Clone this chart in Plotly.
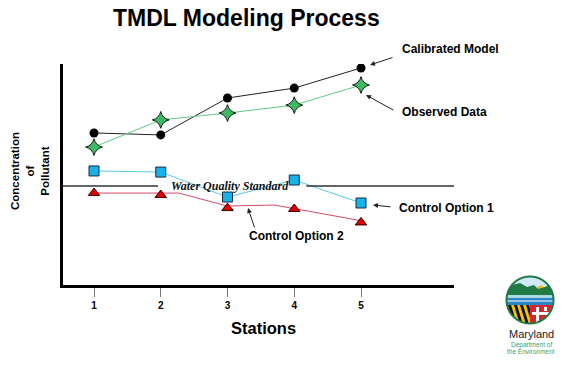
import plotly.graph_objects as go
import math

# ---------------- data ----------------
stations = [1, 2, 3, 4, 5]
station_labels = ["1", "2", "3", "4", "5"]
calibrated_model = [6.88, 6.79, 8.46, 8.91, 9.82]
observed_data = [6.24, 7.47, 7.78, 8.14, 9.05]
control_option_1 = [5.16, 5.11, 3.98, 4.75, 3.71]
control_option_2 = [4.16, 4.07, 3.48, 3.44, 2.83]
# drawn path of the Control Option 2 line
option2_line_x = [1, 2.27, 3, 3.7, 5]
option2_line_y = [4.16, 4.16, 3.57, 3.62, 2.91]
water_quality_standard = 4.48

W, H = 569, 365
FONT = "Liberation Sans"


def px(x):
    return x / W


def py(y):
    return 1 - y / H


fig = go.Figure()

fig.add_trace(go.Scatter(x=stations, y=calibrated_model, mode="lines+markers",
                         line=dict(color="#222222", width=1),
                         marker=dict(symbol="circle", size=9, color="#000000"),
                         name="Calibrated Model"))
fig.add_trace(go.Scatter(x=stations, y=observed_data, mode="lines+markers",
                         line=dict(color="#62c985", width=1),
                         marker=dict(symbol="star-diamond", size=12, color="#3dbb63",
                                     line=dict(color="#1a1a1a", width=1)),
                         name="Observed Data"))
fig.add_trace(go.Scatter(x=stations, y=control_option_1, mode="lines+markers",
                         line=dict(color="#5cc8e6", width=1),
                         marker=dict(symbol="square", size=10, color="#17b3e8",
                                     line=dict(color="#1a2a44", width=1)),
                         name="Control Option 1"))
fig.add_trace(go.Scatter(x=option2_line_x, y=option2_line_y, mode="lines",
                         line=dict(color="#d64a68", width=1), name="Control Option 2 line"))
fig.add_trace(go.Scatter(x=stations, y=control_option_2, mode="markers",
                         marker=dict(symbol="triangle-up", size=10, color="#e00000",
                                     line=dict(color="#330000", width=1)),
                         name="Control Option 2"))

x0_px, x1_px = 62.8, 454.0
y_top_px, y_bot_px = 64.0, 285.0
st_px = [94.0, 160.75]  # station 1 and 2 pixel positions
step = st_px[1] - st_px[0]
xr = [1 - (st_px[0] - x0_px) / step, 1 + (x1_px - st_px[0]) / step]

fig.update_layout(
    width=W, height=H, autosize=False,
    margin=dict(l=0, r=0, t=0, b=0, pad=0),
    paper_bgcolor="white", plot_bgcolor="white",
    showlegend=False, hovermode=False,
    xaxis=dict(domain=[px(x0_px), px(x1_px)], range=xr,
               tickvals=stations, ticktext=[f"<b>{s}</b>" for s in station_labels],
               ticks="outside", ticklen=9, tickwidth=1, tickcolor="#777777",
               showline=True, linecolor="black", linewidth=2.5,
               showgrid=False, zeroline=False,
               tickfont=dict(family=FONT, size=10, color="black")),
    yaxis=dict(domain=[py(y_bot_px), py(y_top_px)], range=[0, 10],
               showline=True, linecolor="black", linewidth=2.5,
               showticklabels=False, ticks="", showgrid=False, zeroline=False),
)

# water quality standard line (with gap for label)
wq_gap = [1.96, 4.18]
for xa, xb in [(xr[0], wq_gap[0]), (wq_gap[1], xr[1])]:
    fig.add_shape(type="line", xref="x", yref="y", x0=xa, x1=xb,
                  y0=water_quality_standard, y1=water_quality_standard,
                  line=dict(color="#333333", width=1.5))

ann = []


def text(x, y, t, size, color="black", family=FONT, xanchor="center", **kw):
    ann.append(dict(x=px(x), y=py(y), xref="paper", yref="paper", text=t,
                    showarrow=False, xanchor=xanchor, yanchor="middle",
                    font=dict(family=family, size=size, color=color), **kw))


ann.append(dict(x=3.03, y=water_quality_standard + 0.02, xref="x", yref="y",
                xanchor="center", yanchor="middle",
                text="<b><i>Water Quality Standard</i></b>", showarrow=False,
                font=dict(family="Liberation Serif", size=12, color="#111111")))
text(246, 18, "<b>TMDL Modeling Process</b>", 23)
text(263, 328, "<b>Stations</b>", 16.5)
text(29.5, 171.5, "<b>Concentration<br>of<br>Pollutant</b>", 11.5, textangle=-90)

labels = [("Calibrated Model", 400, 49), ("Observed Data", 400, 112),
          ("Control Option 1", 397, 208), ("Control Option 2", 247, 236)]
for t, lx, ly in labels:
    text(lx, ly, f"<b>{t}</b>", 12, xanchor="left")

arrows = [((394, 57), (370, 65)), ((395, 111), (366, 95)),
          ((392, 207), (373, 205)), ((255, 229), (248, 208))]
for (tx, ty), (hx, hy) in arrows:
    ann.append(dict(x=px(hx), y=py(hy), xref="paper", yref="paper",
                    ax=tx - hx, ay=ty - hy, axref="pixel", ayref="pixel",
                    text="", showarrow=True, arrowhead=2, arrowsize=1,
                    arrowwidth=1, arrowcolor="#222222", standoff=0))

# ---------------- logo (Maryland Department of the Environment) ----------------
cx, cy, r = 530.0, 300.0, 23.5
circle = [(cx + r * math.cos(2 * math.pi * k / 90), cy + r * math.sin(2 * math.pi * k / 90))
          for k in range(90)]


def cross(ax_, ay_, bx, by):
    return ax_ * by - ay_ * bx


def clip_convex(subject, clip):
    out = list(subject)
    mx = sum(p[0] for p in clip) / len(clip)
    my = sum(p[1] for p in clip) / len(clip)
    for i in range(len(clip)):
        a = clip[i - 1]
        b = clip[i]
        ex, ey = b[0] - a[0], b[1] - a[1]
        sc = cross(ex, ey, mx - a[0], my - a[1])

        def d(p):
            return cross(ex, ey, p[0] - a[0], p[1] - a[1]) * sc

        inp = out
        out = []
        if not inp:
            break
        for j in range(len(inp)):
            p = inp[j - 1]
            q = inp[j]
            dp, dq = d(p), d(q)
            if dq >= 0:
                if dp < 0:
                    t = dp / (dp - dq)
                    out.append((p[0] + t * (q[0] - p[0]), p[1] + t * (q[1] - p[1])))
                out.append(q)
            elif dp >= 0:
                t = dp / (dp - dq)
                out.append((p[0] + t * (q[0] - p[0]), p[1] + t * (q[1] - p[1])))
    return out


def to_path(pts):
    return "M " + " L ".join(f"{px(x):.5f},{py(y):.5f}" for x, y in pts) + " Z"


def region(poly, color):
    pts = clip_convex(poly, circle)
    if len(pts) >= 3:
        fig.add_shape(type="path", xref="paper", yref="paper", path=to_path(pts),
                      fillcolor=color, line=dict(width=0), layer="above")


def rect(x0, y0, x1, y1):
    return [(x0, y0), (x1, y0), (x1, y1), (x0, y1)]


L, R, T, B = cx - r - 1, cx + r + 1, cy - r - 1, cy + r + 1
region(rect(L, T, R, B), "#ffffff")
region(rect(L, T, R, 294), "#cdeaf6")
sun = [(541 + 4.5 * math.cos(2 * math.pi * k / 24), 290 + 4.5 * math.sin(2 * math.pi * k / 24))
       for k in range(24)]
region(sun, "#f6bd16")
hills = [(L, 300), (L, 289), (512, 285), (520, 283), (527, 287), (534, 285),
         (538, 289), (545, 287), (551, 284), (R, 287), (R, 300)]
region(hills, "#1f7a45")
region(rect(L, 295, R, 298), "#a9d8e6")
region(rect(L, 298, R, 305), "#2b86c8")
region(rect(L, 300.5, R, 301.5), "#ffffff")
region(rect(L, 305, cx, B), "#f4c20d")
for k in range(4):
    xs = 508 + k * 6
    region([(xs, 305), (xs + 3, 305), (xs + 3 + 6, B), (xs + 6, B)], "#111111")
region(rect(cx, 305, R, B), "#d7262e")
region(rect(cx + 6, 307, cx + 9, 322), "#ffffff")
region(rect(cx + 2, 312, cx + 20, 315), "#ffffff")
region(rect(cx + 14, 307, cx + 17, 311), "#ffffff")
fig.add_shape(type="path", xref="paper", yref="paper", path=to_path(circle),
              fillcolor="rgba(0,0,0,0)", line=dict(color="#1f7a45", width=2), layer="above")

text(531, 334, "Maryland", 11, color="#222222")
text(531, 344.5, "Department of", 6.5, color="#3a9f66")
text(531, 351.5, "the Environment", 6.5, color="#3a9f66")

fig.update_layout(annotations=ann)
fig.write_html("out.html", config={"displayModeBar": False},
               post_script="document.body.style.margin='0px';document.body.style.padding='0px';")
